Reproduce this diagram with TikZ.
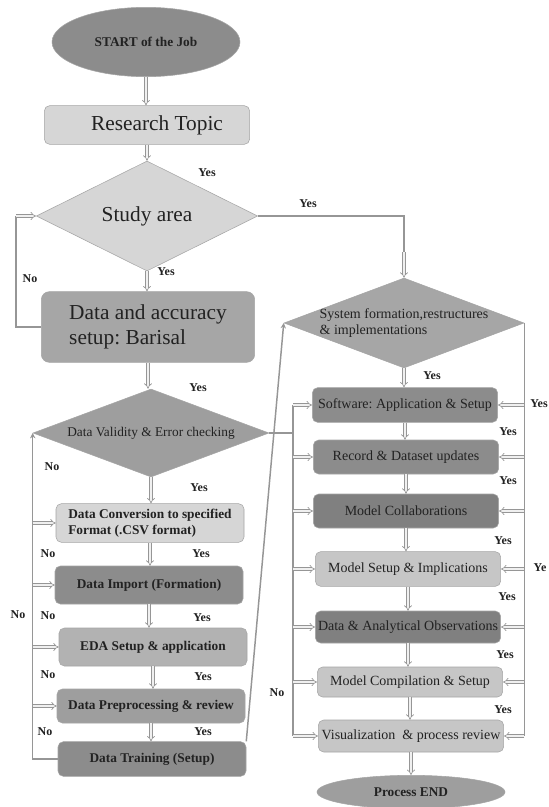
\documentclass[tikz,border=0pt]{standalone}
\usepackage{fontspec}
\setmainfont{Liberation Serif}
\frenchspacing
\usetikzlibrary{positioning,arrows.meta,shapes.geometric}
\definecolor{inkgray}{RGB}{34,34,34}
\definecolor{linegray}{RGB}{150,150,150}
\definecolor{rimgray}{RGB}{165,165,165}
\definecolor{fillA}{RGB}{140,140,140}
\definecolor{fillB}{RGB}{214,214,214}
\definecolor{fillC}{RGB}{166,166,166}
\definecolor{fillD}{RGB}{158,158,158}
\definecolor{fillE}{RGB}{178,178,178}
\definecolor{fillF}{RGB}{128,128,128}
\definecolor{fillG}{RGB}{198,198,198}
\tikzset{
  term/.style={ellipse,draw=rimgray,fill=#1,inner sep=0pt,text=inkgray,font=\bfseries\fontsize{10}{12}\selectfont},
  bigbox/.style={rectangle,rounded corners=6pt,draw=rimgray,fill=#1,inner sep=2pt,text=inkgray,font=\fontsize{16}{19}\selectfont},
  lbox/.style={rectangle,rounded corners=4pt,draw=rimgray,fill=#1,inner sep=2pt,minimum width=141pt,text=inkgray,font=\bfseries\fontsize{10}{12}\selectfont},
  rbox/.style={rectangle,rounded corners=4pt,draw=rimgray,fill=#1,inner sep=1pt,minimum width=139pt,text=inkgray,font=\fontsize{10.5}{12}\selectfont},
  decide/.style={diamond,draw=rimgray,fill=#1,inner sep=0pt,text=inkgray},
  darr/.style={draw=linegray,line width=0.5pt,double=gray!12,double distance=1.6pt,-{Implies}},
  bus/.style={draw=linegray,line width=1.1pt},
  yn/.style={text=inkgray,font=\bfseries\fontsize{9}{10}\selectfont}
}
\begin{document}
\begin{tikzpicture}[x=0.75pt,y=-0.75pt]
  \useasboundingbox[fill=white] (0,0) rectangle (549,807);
  % left column
  \node[term=fillA,minimum width=141pt,minimum height=52pt] (start) at (146,42) {START of the Job};
  \node[bigbox=fillB,minimum width=154pt,minimum height=29pt,rounded corners=4pt] (research) at (147,125) {\hspace*{15pt}Research Topic};
  \node[decide=fillB,minimum width=166pt,minimum height=69pt,font=\fontsize{16}{19}\selectfont] (study) at (147,216) {Study area};
  \node[bigbox=fillC,minimum width=160pt,minimum height=53pt,align=left] (da) at (148,327) {Data and accuracy\\setup: Barisal};
  \node[decide=fillD,minimum width=177pt,minimum height=66pt,aspect=2.6,font=\fontsize{10}{12}\selectfont] (dv) at (151,433) {Data Validity \& Error checking};
  \node[lbox=fillB,minimum height=29pt,align=left] (dc) at (150,523) {Data Conversion to specified\\Format (.CSV format)};
  \node[lbox=fillA,minimum height=28.5pt] (di) at (149,585) {Data Import (Formation)};
  \node[lbox=fillE,minimum height=28.5pt] (eda) at (153,647) {EDA Setup \& application};
  \node[lbox=fillD,minimum height=25.5pt] (dp) at (151,706) {Data Preprocessing \& review};
  \node[lbox=fillA,minimum height=26pt] (dt) at (152,759) {Data Training (Setup)};
  % right column
  \node[decide=fillC,minimum width=180pt,minimum height=67.5pt,
    label={[align=left,text=inkgray,font=\fontsize{10.5}{12.5}\selectfont]center:System formation,restructures\\\& implementations}] (sys) at (404,323) {};
  \node[rbox=fillA,minimum height=26pt] (sw) at (405,405) {Software: Application \& Setup};
  \node[rbox=fillA,minimum height=25.5pt] (rec) at (406,457) {Record \& Dataset updates};
  \node[rbox=fillF,minimum height=25.5pt] (mc) at (406,511) {Model Collaborations};
  \node[rbox=fillG,minimum height=26pt] (ms) at (408,569) {Model Setup \& Implications};
  \node[rbox=fillF,minimum height=24pt] (dao) at (408,627) {Data \& Analytical Observations};
  \node[rbox=fillG,minimum height=22.5pt] (mcs) at (410,682) {Model Compilation \& Setup};
  \node[rbox=fillG,minimum height=24pt] (vis) at (411,736) {Visualization\ \ \& process review};
  \node[term=fillD,minimum width=141pt,minimum height=25pt] (pend) at (411,792) {Process END};
  % flow down both columns
  \foreach \a/\b in {start/research,research/study,study/da,da/dv,dv/dc,dc/di,di/eda,eda/dp,dp/dt,
                     sys/sw,sw/rec,rec/mc,mc/ms,ms/dao,dao/mcs,mcs/vis,vis/pend}
    \draw[darr] (\a.south) -- (\a.south |- \b.north);
  % No loop back to study area
  \coordinate (noturn) at (16,216);
  \draw[bus] (da.west) -| (noturn);
  \draw[darr] (noturn) -- (study.west);
  % study area to system
  \coordinate (sysin) at (404,252);
  \draw[bus] (study.east) -| (sysin);
  \draw[darr] (sysin) -- (sys.north);
  % left bus
  \draw[bus,-{Stealth[length=4pt,width=4pt]}] (dt.west) -| (dv.west);
  \foreach \n in {dc,di,eda,dp}
    \draw[darr] (\n.west -| dv.west) -- (\n.west);
  % training back up to system
  \draw[bus,-{Stealth[length=4pt,width=4pt]}] (dt.north east) -- (sys.west);
  % right column buses
  \coordinate (rbus) at (293,433);
  \draw[bus] (dv.east) -- (rbus);
  \draw[bus] (sw.west -| rbus) -- (vis.west -| rbus);
  \draw[bus] (sys.east) -- (sys.east |- vis.east);
  \foreach \n in {sw,rec,mc,ms,dao,mcs,vis}{
    \draw[darr] (\n.west -| rbus) -- (\n.west);
    \draw[darr] (\n.east -| sys.east) -- (\n.east);}
  % labels
  \foreach \p in {(207,173),(308,204),(166,272),(198,388),(199,488),(201,554),(202,618),(203,677),(203,732),
                  (432,376),(539,404),(508,432),(508,481),(503,541),(507,597),(505,655),(503,710)}
    \node[yn] at \p {Yes};
  \node[yn] at (540,568) {Ye};
  \foreach \p in {(30,279),(52,467),(48,554),(18,615),(48,616),(48,675),(45,732),(277,693)}
    \node[yn] at \p {No};
\end{tikzpicture}
\end{document}
